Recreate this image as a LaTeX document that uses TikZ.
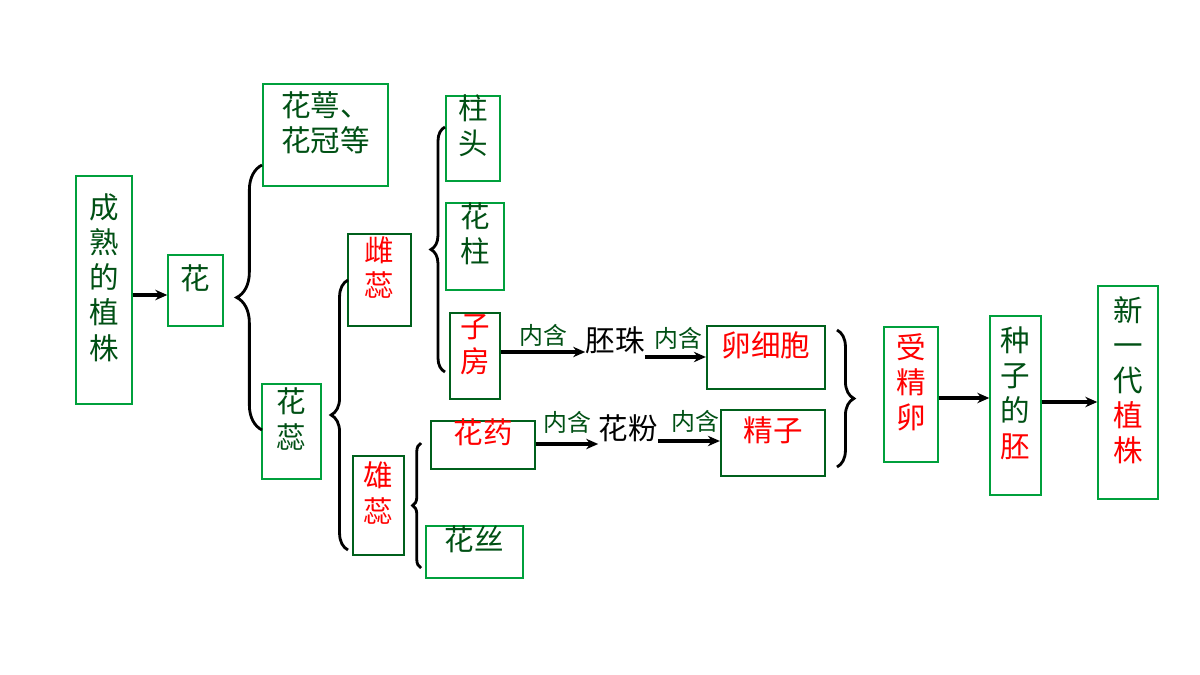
\documentclass[tikz,border=0pt]{standalone}
\usepackage{fontspec}
\setmainfont{Noto Sans CJK SC}
\usetikzlibrary{arrows.meta,positioning,fit,decorations.pathreplacing}
\definecolor{boxgreen}{RGB}{0,160,60}
\definecolor{txtgreen}{RGB}{0,80,20}
\tikzset{
  >=Stealth,
  box/.style={draw=boxgreen, line width=1pt, inner sep=0pt, align=center, text=txtgreen, font=\fontsize{21}{25}\selectfont, text depth=-9pt},
  dbox/.style={box, draw=txtgreen!80!boxgreen, line width=1.6pt},
  arr/.style={-{Stealth[length=3mm, width=2.6mm]}, line width=2.4pt},
  lbl/.style={text=txtgreen, font=\fontsize{17}{20}\selectfont, inner sep=0pt},
  word/.style={font=\fontsize{21}{25}\selectfont, inner sep=0pt},
  brc/.style={decorate, decoration={brace, amplitude=#1}, line width=2pt}
}
\begin{document}
\begin{tikzpicture}[x=0.025cm, y=-0.025cm]
\useasboundingbox (0,0) rectangle (1200,675);

% boxes
\node[box, fit={(76,176)(132,404)}] (plant) {成\\熟\\的\\植\\株};
\node[box, fit={(168,255)(223,326)}] (flower) {花};
\node[box, fit={(263,84)(388,186)}] (petal) {花萼、\\花冠等};
\node[box, fit={(262,384)(321,479)}] (stamenall) {花\\蕊};
\node[dbox, fit={(348,234)(411,326)}, text=red] (pistil) {雌\\蕊};
\node[dbox, fit={(353,456)(404,555)}, text=red] (stamen) {雄\\蕊};
\node[box, fit={(446,96)(500,181)}] (stigma) {柱\\头};
\node[box, fit={(446,203)(504,290)}] (style) {花\\柱};
\node[dbox, fit={(450,313)(500,399)}, text=red] (ovary) {子\\房};
\node[dbox, fit={(431,421)(535,469)}, text=red] (anther) {花药};
\node[box, fit={(426,526)(523,578)}] (filament) {花丝};
\node[dbox, fit={(707,326)(825,389)}, text=red] (egg) {卵细胞};
\node[dbox, fit={(721,410)(825,476)}, text=red] (sperm) {精子};
\node[box, fit={(884,327)(938,462)}, text=red] (zygote) {受\\精\\卵};
\node[box, fit={(990,316)(1041,495)}] (embryo) {种\\子\\的\\\textcolor{red}{胚}};
\node[box, fit={(1098,286)(1158,499)}] (newplant) {新\\一\\代\\\textcolor{red}{植}\\\textcolor{red}{株}};

% free words
\node[word] (ovule) at (615,340) {胚珠};
\node[word] (pollen) at (628,428) {花粉};

% arrows
\draw[arr] (plant.east |- 0,295) -- (flower.west |- 0,295);
\draw[arr] (ovary.east |- 0,352) -- node[lbl, above=3pt, pos=0.5] {内含} (ovule.west |- 0,352);
\draw[arr] (ovule.east |- 0,357) -- node[lbl, above=4pt, pos=0.55] {内含} (egg.west |- 0,357);
\draw[arr] (anther.east |- 0,444) -- node[lbl, above=6pt] {内含} (pollen.west |- 0,444);
\draw[arr] (pollen.east |- 0,441) -- node[lbl, above=5pt, pos=0.6] {内含} (sperm.west |- 0,441);
\draw[arr] (zygote.east |- 0,398) -- (embryo.west |- 0,398);
\draw[arr] (embryo.east |- 0,402) -- (newplant.west |- 0,402);

% braces
\draw[brc=18pt] (262,430) -- (262,165);
\draw[brc=12pt] (348,550) -- (348,280);
\draw[brc=10pt] (445,372) -- (445,127);
\draw[brc=6pt] (421,568) -- (421,443);
\draw[brc=12pt] (837,330) -- (837,467);
\end{tikzpicture}
\end{document}
